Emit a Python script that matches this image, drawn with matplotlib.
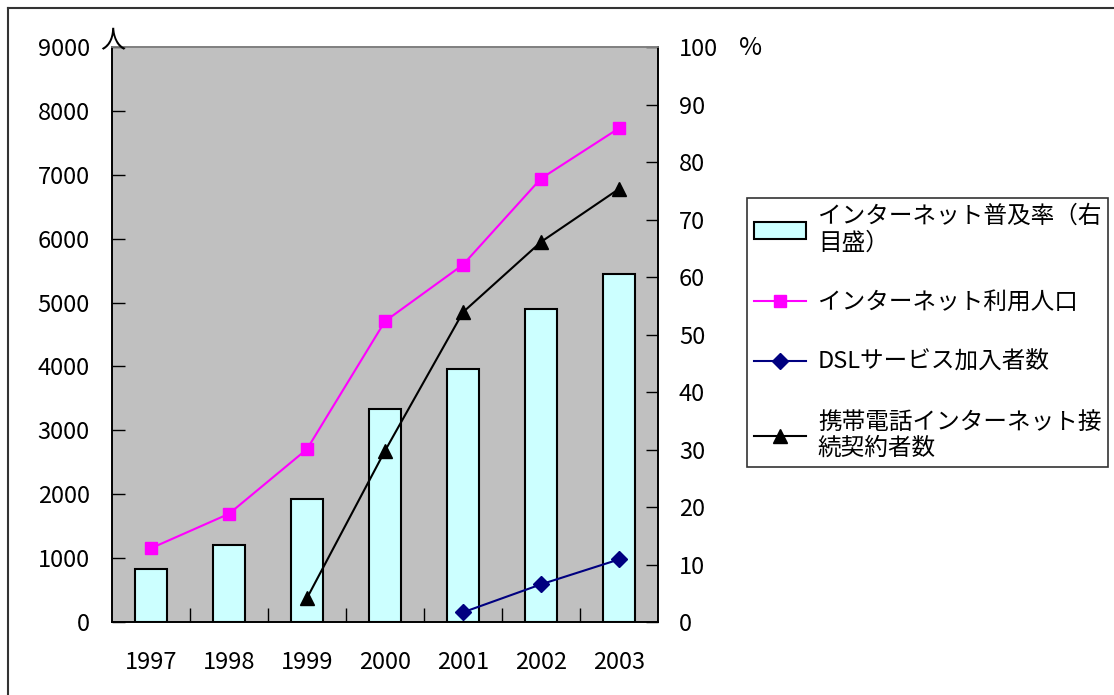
import matplotlib
matplotlib.use('Agg')
from matplotlib import pyplot as plt
from matplotlib.lines import Line2D

plt.rcParams['font.family'] = ['Noto Sans CJK JP', 'DejaVu Sans']

years = ['1997', '1998', '1999', '2000', '2001', '2002', '2003']
penetration = [9.2, 13.4, 21.4, 37.1, 44.0, 54.5, 60.6]          # % (right axis)
internet_users = [1155, 1694, 2706, 4708, 5593, 6942, 7730]      # left axis
dsl_years = ['2001', '2002', '2003']
dsl_users = [152, 590, 980]
mobile_years = ['1999', '2000', '2001', '2002', '2003']
mobile_users = [375, 2680, 4850, 5950, 6780]

labels = ['インターネット普及率（右\n目盛）', 'インターネット利用人口',
          'DSLサービス加入者数', '携帯電話インターネット接\n続契約者数']

fig = plt.figure(figsize=(11.14, 6.95), dpi=100)
ax = fig.add_axes([0.1005, 0.105, 0.4902, 0.8273])
ax.set_facecolor('#C0C0C0')
ax2 = ax.twinx()

# bars on the primary axes (percent, shown on the right)
x = list(range(len(years)))
bars = ax.bar(x, penetration, width=0.41, color='#CCFFFF', edgecolor='black',
              linewidth=1.5, label=labels[0], zorder=2)
ax.set_ylim(0, 100)
ax.set_xlim(-0.5, len(years) - 0.5)
ax.yaxis.tick_right()
ax.set_yticks(range(0, 101, 10))
ax.tick_params(axis='y', direction='in', length=9, pad=15, labelsize=17, width=1)
for lab in ax.get_yticklabels():
    lab.set_horizontalalignment('left')

ax.set_xticks(x)
ax.set_xticklabels(years)
ax.tick_params(axis='x', length=0, pad=21, labelsize=17)
ax.set_xticks([i + 0.5 for i in x[:-1]], minor=True)
ax.tick_params(axis='x', which='minor', direction='in', length=10, width=1)

# lines on the twin axes (people, shown on the left)
ax2.yaxis.tick_left()
ax2.set_ylim(0, 9000)
ax2.set_yticks(range(0, 9001, 1000))
ax2.tick_params(axis='y', direction='in', length=9, pad=16, labelsize=17, width=1)

idx = {y: i for i, y in enumerate(years)}
l1, = ax2.plot(x, internet_users, color='#FF00FF', marker='s', markersize=8,
               linewidth=1.5, label=labels[1])
l2, = ax2.plot([idx[y] for y in dsl_years], dsl_users, color='#000080', marker='D',
               markersize=8, linewidth=1.5, label=labels[2])
l3, = ax2.plot([idx[y] for y in mobile_years], mobile_users, color='black', marker='^',
               markersize=10, linewidth=1.5, label=labels[3])

for a in (ax, ax2):
    for s in a.spines.values():
        s.set_color('black')
        s.set_linewidth(1.2)
ax.spines['top'].set_color('#808080')
ax2.spines['top'].set_color('#808080')

fig.text(0.090, 0.922, '人', fontsize=18, ha='left', va='bottom')
fig.text(0.663, 0.912, '%', fontsize=18, ha='left', va='bottom')

leg = fig.legend(handles=[bars, l1, l2, l3], labels=labels,
                 loc='upper left', bbox_to_anchor=(0.6706, 0.715),
                 fontsize=17, frameon=True, fancybox=False, edgecolor='black',
                 handlelength=2.2, handletextpad=0.5, labelspacing=1.55,
                 borderpad=0.3, borderaxespad=0)
leg.get_frame().set_linewidth(1.2)

# outer border (left and top only visible in the reference)
fig.add_artist(Line2D([0.0075, 0.0075], [0, 0.9885], color='#333333', linewidth=1.5,
                      transform=fig.transFigure))
fig.add_artist(Line2D([0.0075, 1.0], [0.9885, 0.9885], color='#333333', linewidth=1.5,
                      transform=fig.transFigure))

fig.savefig('out.png', dpi=100)
